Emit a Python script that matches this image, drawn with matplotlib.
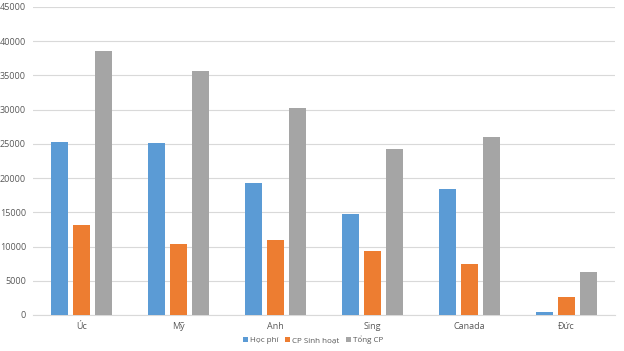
import numpy as np
import matplotlib.pyplot as plt

countries = ['Úc', 'Mỹ', 'Anh', 'Sing', 'Canada', 'Đức']
hoc_phi = [25300, 25200, 19300, 14800, 18400, 500]
cp_sinh_hoat = [13100, 10400, 11000, 9300, 7500, 2600]
tong_cp = [38500, 35700, 30300, 24200, 26000, 6300]

plt.rcParams['font.family'] = ['Open Sans', 'DejaVu Sans']

fig = plt.figure(figsize=(6.24, 3.51), dpi=100)
ax = fig.add_axes([33 / 624, 36 / 351, 582 / 624, 308 / 351])

x = np.arange(len(countries))
w = 0.175
off = 0.222
ax.bar(x - off, hoc_phi, w, color='#5B9BD5', label='Học phí', zorder=3)
ax.bar(x, cp_sinh_hoat, w, color='#ED7D31', label='CP Sinh hoạt', zorder=3)
ax.bar(x + off, tong_cp, w, color='#A5A5A5', label='Tổng CP', zorder=3)

ax.set_xlim(-0.5, 5.5)
ax.set_ylim(0, 45000)
ax.set_yticks(range(0, 45001, 5000))
ax.set_xticks(x)
ax.set_xticklabels(countries)
ax.grid(axis='y', color='#D9D9D9', lw=0.8, zorder=0)
for s in ['top', 'right', 'left']:
    ax.spines[s].set_visible(False)
ax.spines['bottom'].set_color('#D9D9D9')
ax.tick_params(length=0, labelsize=6.5, colors='#595959', pad=5)

ax.legend(loc='center', bbox_to_anchor=(313 / 624, 11 / 351),
          bbox_transform=fig.transFigure, ncol=3, frameon=False,
          fontsize=5.8, labelcolor='#595959', handlelength=0.55, handleheight=0.55,
          handletextpad=0.25, columnspacing=0.9, borderpad=0.1)

fig.savefig('out.png', dpi=100)
